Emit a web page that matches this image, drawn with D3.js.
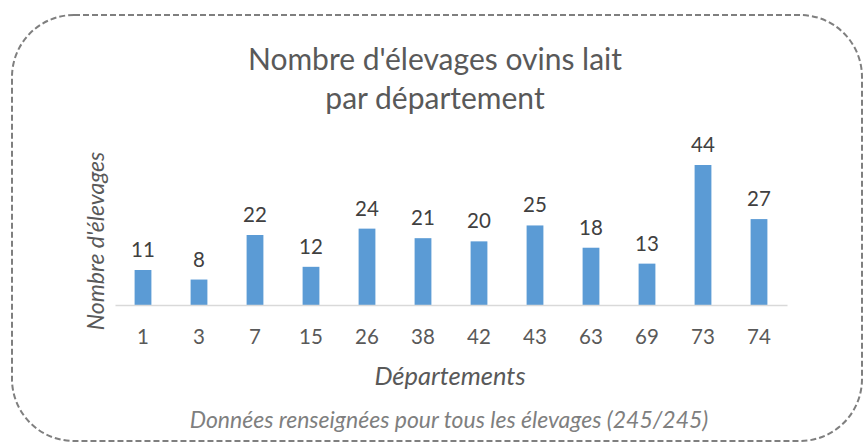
<!DOCTYPE html>
<html>
<head>
<meta charset="utf-8">
<script src="https://cdn.jsdelivr.net/npm/d3@7"></script>
<style>
  body { margin: 0; background: #fff; }
  svg { display: block; font-family: Lato, "Open Sans", sans-serif; }
</style>
</head>
<body>
<svg id="chart"></svg>
<script>
// data
const departements = ['1', '3', '7', '15', '26', '38', '42', '43', '63', '69', '73', '74'];
const elevages = [11, 8, 22, 12, 24, 21, 20, 25, 18, 13, 44, 27];
const titleLines = ["Nombre d'élevages ovins lait", "par département"];

const W = 863, H = 442;
const plot = { left: 115, right: 787, top: 165, bottom: 305 };

const svg = d3.select('#chart')
  .attr('width', W)
  .attr('height', H);

// dashed rounded frame
svg.append('rect')
  .attr('x', 12).attr('y', 15)
  .attr('width', 850).attr('height', 426)
  .attr('rx', 62).attr('ry', 62)
  .attr('fill', 'none')
  .attr('stroke', '#7f7f7f')
  .attr('stroke-width', 2)
  .attr('stroke-dasharray', '6,3');

const x = d3.scaleBand()
  .domain(departements)
  .range([plot.left, plot.right])
  .paddingInner(0.7)
  .paddingOuter(0.35);

const y = d3.scaleLinear()
  .domain([0, 44])
  .range([plot.bottom, plot.top]);

// bars
svg.append('g')
  .selectAll('rect')
  .data(elevages)
  .join('rect')
  .attr('x', (d, i) => x(departements[i]))
  .attr('y', d => y(d))
  .attr('width', x.bandwidth())
  .attr('height', d => y(0) - y(d))
  .attr('fill', '#5b9bd5');

// value labels
svg.append('g')
  .selectAll('text')
  .data(elevages)
  .join('text')
  .attr('x', (d, i) => x(departements[i]) + x.bandwidth() / 2)
  .attr('y', d => y(d) - 13)
  .attr('text-anchor', 'middle')
  .attr('font-size', 20.5)
  .attr('fill', '#404040')
  .text(d => d);

// x axis
const xAxis = svg.append('g')
  .attr('transform', `translate(0,${plot.bottom})`)
  .call(d3.axisBottom(x).tickSize(0));
xAxis.select('.domain').attr('stroke', '#d9d9d9').attr('stroke-width', 1.3);
xAxis.selectAll('.tick text')
  .attr('y', 39)
  .attr('dy', 0)
  .attr('font-size', 20.5)
  .attr('font-family', 'Lato, sans-serif')
  .attr('fill', '#595959');

// title
svg.append('text')
  .attr('text-anchor', 'middle')
  .attr('font-size', 30)
  .attr('fill', '#595959')
  .selectAll('tspan')
  .data(titleLines)
  .join('tspan')
  .attr('x', 435)
  .attr('y', (d, i) => 70 + i * 39)
  .text(d => d);

// axis titles
svg.append('text')
  .attr('x', 450).attr('y', 385)
  .attr('text-anchor', 'middle')
  .attr('font-size', 25.5)
  .attr('font-style', 'italic')
  .attr('fill', '#595959')
  .text('Départements');

svg.append('text')
  .attr('transform', 'translate(104,241) rotate(-90)')
  .attr('text-anchor', 'middle')
  .attr('font-size', 23)
  .attr('font-style', 'italic')
  .attr('fill', '#595959')
  .text("Nombre d'élevages");

// footnote
svg.append('text')
  .attr('x', 449).attr('y', 428)
  .attr('text-anchor', 'middle')
  .attr('font-size', 23)
  .attr('font-style', 'italic')
  .attr('fill', '#7f7f7f')
  .text('Données renseignées pour tous les élevages (245/245)');
</script>
</body>
</html>
